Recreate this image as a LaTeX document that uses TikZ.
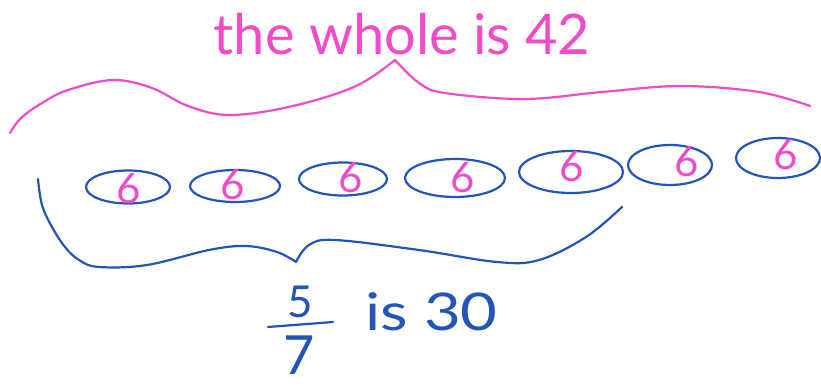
\documentclass[tikz,border=0pt]{standalone}
\usepackage{fontspec}
\setmainfont{Lato}
\usetikzlibrary{shapes.geometric}
\definecolor{penpink}{RGB}{240,75,200}
\definecolor{penblue}{RGB}{35,85,185}
\begin{document}
\begin{tikzpicture}[x=1pt,y=-1pt,
  pen/.style={line width=2.2pt,line cap=round,line join=round},
  ell/.style={ellipse,draw=penblue,pen,inner sep=0pt},
  six/.style={text=penpink,font=\fontsize{42}{42}\selectfont,inner sep=0pt},
  titletext/.style={text=penpink,font=\fontsize{56}{56}\selectfont,inner sep=0pt},
  bluetext/.style={text=penblue,inner sep=0pt}]
\useasboundingbox (0,0) rectangle (821,387);
% top brace
\draw[pen,penpink] plot[smooth,tension=0.6] coordinates {(10,133) (21,118) (42,103) (68,90) (113,80) (152,88) (188,106) (230,115) (293,106) (356,86) (395,60)};
\draw[pen,penpink] plot[smooth,tension=0.6] coordinates {(395,60) (419,83) (445,93) (524,99) (602,92) (681,86) (759,92) (810,106)};
\node[titletext] (title) at (402,34) {the whole is 42};
% ellipses
\node[ell,minimum width=84pt,minimum height=33pt] (e1) at (128,187) {};
\node[ell,minimum width=90pt,minimum height=32pt] (e2) at (235,186) {};
\node[ell,minimum width=88pt,minimum height=33pt] (e3) at (343,179) {};
\node[ell,minimum width=100pt,minimum height=38pt] (e4) at (455,178) {};
\node[ell,minimum width=104pt,minimum height=42pt] (e5) at (571,172) {};
\node[ell,minimum width=84pt,minimum height=40pt] (e6) at (670,165) {};
\node[ell,minimum width=84pt,minimum height=40pt] (e7) at (778,158) {};
\node[six] (s1) at (129,189) {6};
\node[six] (s2) at (233,185) {6};
\node[six] (s3) at (351,178) {6};
\node[six] (s4) at (463,178) {6};
\node[six] (s5) at (572,167) {6};
\node[six] (s6) at (687,162) {6};
\node[six] (s7) at (786,155) {6};
% bottom brace
\draw[pen,penblue] plot[smooth,tension=0.6] coordinates {(38,179) (42,205) (52,227) (65,247) (79,260) (99,267) (147,265) (209,250) (246,246) (277,252) (296,262)};
\draw[pen,penblue] plot[smooth,tension=0.6] coordinates {(296,262) (309,245) (335,240) (419,250) (497,262) (539,260) (586,237) (622,207)};
% fraction
\node[bluetext,font=\fontsize{44}{44}\selectfont,anchor=base] (n5) at (300,317) {5};
\draw[pen,penblue] (268,327) -- (333,322);
\node[bluetext,font=\fontsize{54}{54}\selectfont,anchor=base] (n7) at (299,374) {7};
\node[bluetext,font=\fontsize{52}{52}\selectfont,anchor=base west] (is30) at (365,330) {\scalebox{1.22}[1]{is 30}};
\end{tikzpicture}
\end{document}
